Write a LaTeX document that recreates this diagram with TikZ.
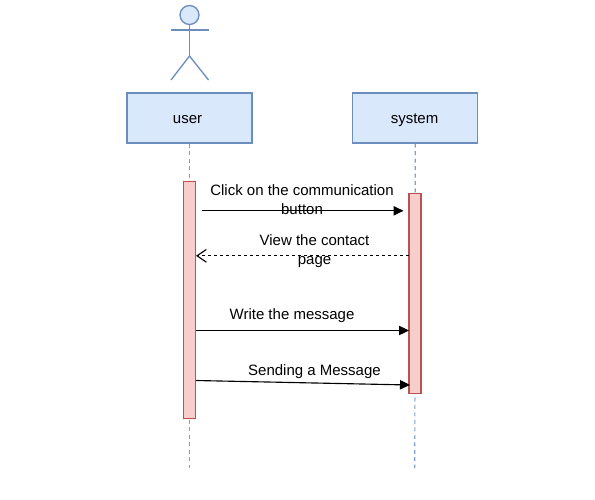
\documentclass[tikz,border=0pt]{standalone}
\usepackage{fontspec}
\setmainfont{Liberation Sans}
\usetikzlibrary{positioning,arrows.meta}
\definecolor{boxfill}{HTML}{DAE8FC}
\definecolor{boxline}{HTML}{6C8EBF}
\definecolor{barfill}{HTML}{F8CECC}
\definecolor{barline}{HTML}{B85450}
\tikzset{
  lifebox/.style={draw=boxline, fill=boxfill, line width=.95pt, minimum width=93.75pt, minimum height=37.5pt, inner sep=0pt, text height=9pt, text depth=1.5pt, font=\fontsize{11.25pt}{14pt}\selectfont},
  actbar/.style={draw=barline, fill=barfill, line width=1.15pt, minimum width=9pt, inner sep=0pt},
  lifeline/.style={draw=boxline!85, line width=.9pt, dash pattern=on 3pt off 2.6pt},
  actor/.style={draw=boxline, line width=1pt},
  call/.style={line width=.85pt, -{Triangle[length=7.5pt,width=7pt]}},
  answer/.style={line width=.85pt, dash pattern=on 2.25pt off 2.25pt, -{Straight Barb[length=7pt,width=9.5pt]}},
  msgtext/.style={inner sep=0pt, align=center, font=\fontsize{11.25pt}{14.25pt}\selectfont},
}
\begin{document}
\begin{tikzpicture}[x=.75pt, y=-.75pt]
  \useasboundingbox (0,0) rectangle (595,499);

  % boxes and bars
  \node [lifebox] (user) at (189.5,118) {user\kern3pt};
  \node [lifebox, right=74.6pt of user] (system) {system\kern1pt};
  \coordinate (userend) at (189.5,468);
  \coordinate (systemend) at (414.8,468);
  \draw [lifeline] (user.south) -- (userend);
  \draw [lifeline] (system.south) -- (systemend);
  \node [actbar, minimum height=177.75pt, anchor=north] (userbar) at (189.5,180.7) {};
  \node [actbar, minimum height=150pt, anchor=north] (systembar) at (414.8,192.7) {};

  % stick figure
  \node [actor, circle, fill=boxfill, minimum size=14.25pt, inner sep=0pt] (head) at (189.5,15) {};
  \coordinate (hip) at (189.5,56);
  \coordinate (arml) at (171,30);
  \coordinate (armr) at (208.5,30);
  \coordinate (footl) at (171,80);
  \coordinate (footr) at (208.5,80);
  \draw [actor] (head.south) -- (hip);
  \draw [actor] (arml) -- (armr);
  \draw [actor] (footl) -- (hip) -- (footr);

  % messages
  \coordinate (clickfrom) at (202,210.8);
  \coordinate (clickto) at (403.5,210.8);
  \coordinate (viewfrom) at (409,255.8);
  \coordinate (viewto) at (196,255.8);
  \coordinate (writefrom) at (196,330.5);
  \coordinate (writeto) at (409,330.5);
  \coordinate (sendfrom) at (196,380.5);
  \coordinate (sendto) at (410,385);
  \draw [call] (clickfrom) -- (clickto);
  \draw [answer] (viewfrom) -- (viewto);
  \draw [call] (writefrom) -- (writeto);
  \draw [call] (sendfrom) -- (sendto);

  \node [msgtext] (clicktext) at (302,200) {Click on the communication\\button};
  \node [msgtext] (viewtext) at (314.5,250.7) {View the contact\\page};
  \node [msgtext] (writetext) at (292,316) {Write the message};
  \node [msgtext] (sendtext) at (314.5,372) {Sending a Message};
\end{tikzpicture}
\end{document}
